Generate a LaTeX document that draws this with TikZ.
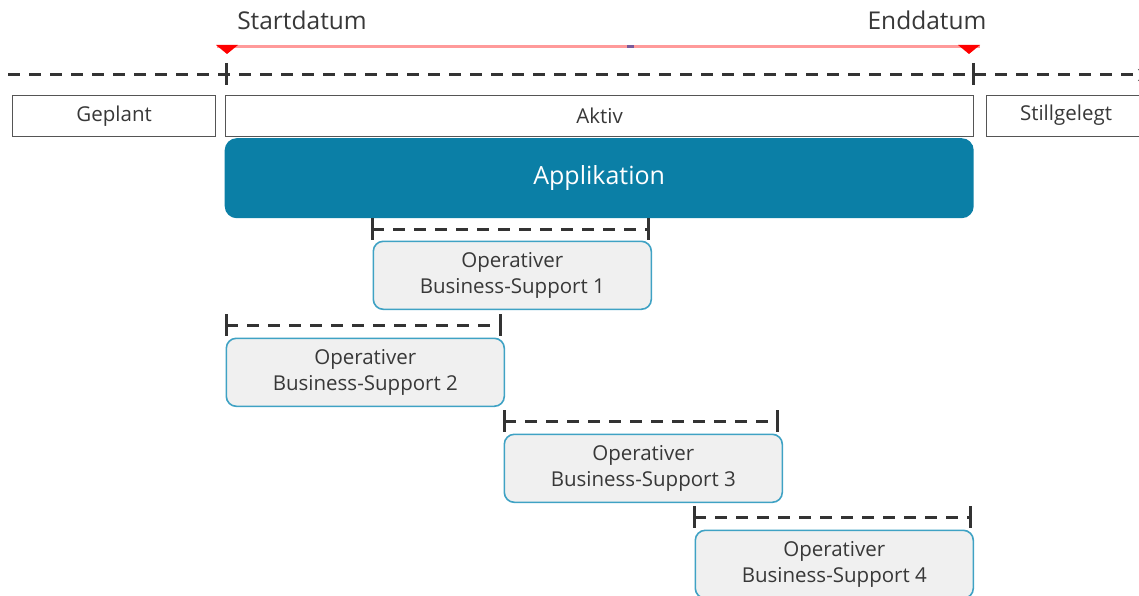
\documentclass[tikz,border=0pt]{standalone}
\usepackage{fontspec}
\setmainfont{Open Sans}
\usetikzlibrary{arrows.meta}
\definecolor{txt}{HTML}{383838}
\definecolor{frame}{HTML}{555555}
\definecolor{tl}{HTML}{333333}
\definecolor{app}{HTML}{0B7FA6}
\definecolor{obsborder}{HTML}{3FA2C4}
\definecolor{obsfill}{HTML}{F0F0F0}
\definecolor{datum}{HTML}{FF9A9A}
\definecolor{marker}{HTML}{FF0000}
\definecolor{dot}{HTML}{7A5A9A}
\begin{document}
\begin{tikzpicture}[x=1pt,y=-1pt,
  phase/.style={draw=frame, line width=1.3pt, fill=white, inner sep=0pt, text=txt,
    font=\fontsize{20.5}{22}\selectfont, anchor=north west},
  appbox/.style={fill=app, rounded corners=12pt, inner sep=0pt, text=white,
    font=\fontsize{25}{28}\selectfont, anchor=north west},
  obs/.style={draw=obsborder, line width=1.6pt, fill=obsfill, rounded corners=10pt,
    inner sep=0pt, text=txt, align=center, font=\fontsize{20.5}{26}\selectfont,
    anchor=north west, minimum width=278pt, minimum height=68pt},
  datelabel/.style={text=txt, font=\fontsize{24.5}{27}\selectfont, inner sep=0pt},
  timeline/.style={draw=tl, line width=3pt, dash pattern=on 12pt off 9pt},
  tick/.style={draw=tl, line width=3pt},
  tri/.style={fill=marker, draw=none},
]
\useasboundingbox (0,0) rectangle (1139,596);
\clip (0,0) rectangle (1139,596);

% date labels
\node[datelabel] (start) at (302,20) {Startdatum};
\node[datelabel] (end) at (927,20) {Enddatum};

% red date line
\coordinate (rs) at (217,47);
\coordinate (re) at (980,47);
\draw[draw=datum, line width=3pt] (rs) -- (re);
\fill[tri] (216,45) -- (238,45) -- (227,54) -- cycle;
\fill[tri] (958,45) -- (980,45) -- (969,54) -- cycle;
\fill[dot] (627,45.5) rectangle (634,48.5);

% main timeline
\coordinate (tl0) at (8,75);
\coordinate (tl1) at (1150,75);
\draw[timeline, -{Stealth[length=12pt,width=12pt]}] (tl0) -- (tl1);
\draw[tick] (226,63) -- (226,85);
\draw[tick] (973,63) -- (973,85);

% phases
\node[phase, minimum width=203pt, minimum height=41pt] (geplant) at (12,95) {Geplant};
\node[phase, minimum width=748pt, minimum height=41pt] (aktiv) at (225,95) {Aktiv};
\node[phase, minimum width=170pt, minimum height=41pt] (still) at (986,95) {};
\node[text=txt, font=\fontsize{20.5}{22}\selectfont, inner sep=0pt] (stilltxt) at (1066,115.5) {Stillgelegt};

% application
\node[appbox, minimum width=749pt, minimum height=80pt] (app) at (224.5,138) {Applikation};

% business supports
\node[obs] (obs1) at (372.5,240.5) {Operativer\\Business-Support 1};
\node[obs] (obs2) at (225.5,337.5) {Operativer\\Business-Support 2};
\node[obs] (obs3) at (503.5,433.5) {Operativer\\Business-Support 3};
\node[obs] (obs4) at (694.5,529.5) {Operativer\\Business-Support 4};

% dashed duration bars
\foreach \n/\xa/\xb/\y in {obs1/372/648/229, obs2/226/500/325, obs3/504/777/421, obs4/694/970/517}{
  \draw[timeline] (\xa,\y) -- (\xb,\y);
  \draw[tick] (\xa,\y-11) -- (\xa,\y+11);
  \draw[tick] (\xb,\y-11) -- (\xb,\y+11);
}
\end{tikzpicture}
\end{document}
